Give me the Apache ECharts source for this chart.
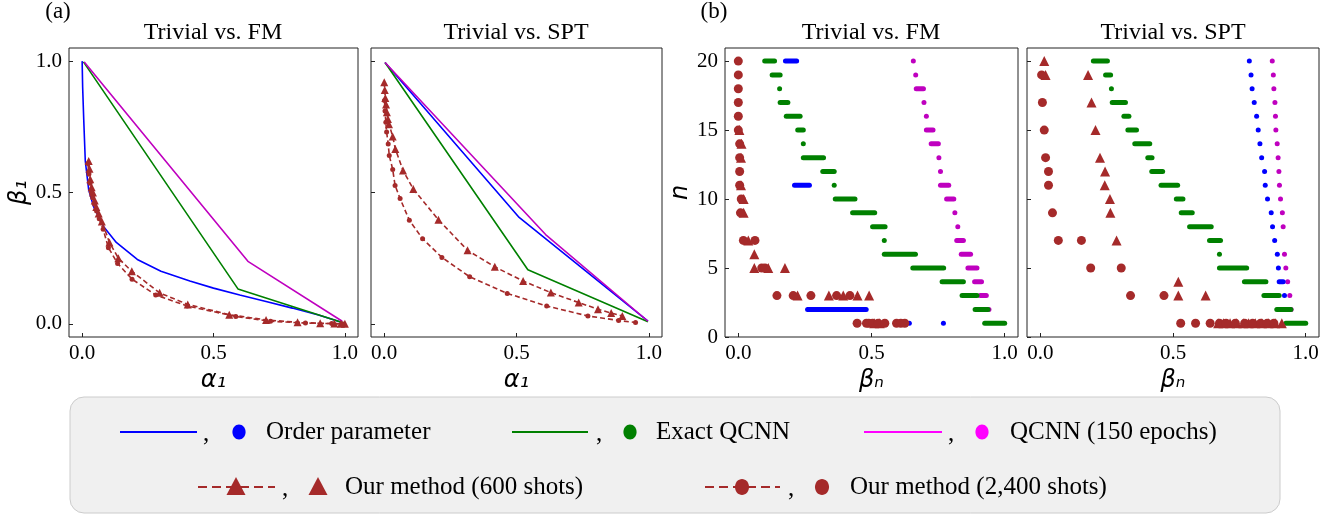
<!DOCTYPE html>
<html>
<head>
<meta charset="utf-8">
<script src="https://cdn.jsdelivr.net/npm/echarts@6/dist/echarts.min.js"></script>
<style>
  html, body { margin: 0; padding: 0; background: #fff; }
  #chart { width: 1341px; height: 518px; }
</style>
</head>
<body>
<div id="chart"></div>
<script>
// ---- panel (a): ROC-like curves, [alpha1, beta1] ----
const fmOrderParam = [[0,1],[0.002,0.9],[0.006,0.78],[0.012,0.62],[0.025,0.51],[0.044,0.445],[0.082,0.37],[0.13,0.31],[0.21,0.245],[0.3,0.2],[0.41,0.163],[0.5,0.136],[0.6,0.11],[0.7,0.085],[0.8,0.06],[0.9,0.034],[0.99,0.005]]
const fmExact = [[0.005,0.997],[0.593,0.133],[0.99,0.005]]
const fmQcnn = [[0.008,0.997],[0.631,0.238],[0.99,0.01]]
const fm600 = [[0.025,0.62],[0.028,0.59],[0.031,0.55],[0.036,0.52],[0.041,0.5],[0.048,0.47],[0.054,0.445],[0.063,0.42],[0.075,0.39],[0.104,0.31],[0.138,0.25],[0.189,0.2],[0.295,0.118],[0.402,0.074],[0.56,0.035],[0.7,0.015],[0.82,0.006],[0.906,0.002],[0.96,0.001],[0.985,0],[1.0,0]]
const fm2400 = [[0.022,0.61],[0.026,0.57],[0.03,0.535],[0.035,0.5],[0.04,0.48],[0.047,0.455],[0.055,0.43],[0.065,0.4],[0.08,0.36],[0.1,0.29],[0.135,0.23],[0.19,0.17],[0.28,0.11],[0.4,0.068],[0.585,0.028],[0.717,0.01],[0.85,0.003],[0.95,0.001],[0.99,0]]

const sptOrderParam = [[0.003,0.995],[0.51,0.405],[0.997,0.01]]
const sptExact = [[0.003,0.995],[0.543,0.206],[0.997,0.008]]
const sptQcnn = [[0.003,0.995],[0.61,0.34],[0.997,0.01]]
const spt600 = [[0,0.92],[0.002,0.89],[0.004,0.86],[0.007,0.835],[0.01,0.805],[0.014,0.78],[0.018,0.76],[0.032,0.713],[0.042,0.666],[0.071,0.584],[0.11,0.513],[0.205,0.396],[0.315,0.28],[0.418,0.217],[0.525,0.163],[0.63,0.119],[0.735,0.081],[0.808,0.056],[0.858,0.041],[0.9,0.03]]
const spt2400 = [[0.001,0.85],[0.003,0.81],[0.006,0.767],[0.009,0.73],[0.015,0.685],[0.019,0.641],[0.032,0.588],[0.041,0.527],[0.06,0.477],[0.095,0.394],[0.145,0.324],[0.218,0.253],[0.323,0.179],[0.465,0.116],[0.614,0.068],[0.77,0.03],[0.886,0.013],[0.95,0.005]]

// ---- panel (b): beta_n per n. runs are [betaLow, betaHigh, n] ----
const fmExactRuns = [[0.099,0.136,20],[0.127,0.157,19],[0.155,0.155,18],[0.157,0.186,17],[0.18,0.232,16],[0.223,0.244,15],[0.244,0.244,14],[0.244,0.32,13],[0.317,0.36,12],[0.36,0.36,11],[0.364,0.438,10],[0.429,0.512,9],[0.504,0.551,8],[0.548,0.548,7],[0.548,0.665,6],[0.655,0.771,5],[0.765,0.845,4],[0.84,0.896,3],[0.889,0.937,2],[0.925,1.0,1]]
const fmQcnnRuns = [[0.657,0.657,20],[0.666,0.666,19],[0.668,0.695,18],[0.697,0.697,17],[0.706,0.706,16],[0.706,0.731,15],[0.724,0.751,14],[0.753,0.753,13],[0.759,0.759,12],[0.759,0.79,11],[0.782,0.809,10],[0.813,0.813,9],[0.824,0.824,8],[0.82,0.845,7],[0.837,0.872,6],[0.862,0.896,5],[0.887,0.913,4],[0.908,0.931,3],[0.941,0.941,2]]
const fmOrderRuns = [[0.177,0.219,20],[0.211,0.267,11],[0.26,0.48,2],[0.642,0.642,1],[0.77,0.77,1]]
const fmTriangles = [[0.004,15],[0.012,14],[0.01,13],[0.01,11],[0.02,10],[0.02,9],[0.0375,7],[0.06,6],[0.06,5],[0.1125,5],[0.175,5],[0.2225,3],[0.34,3],[0.394,3],[0.4475,3],[0.491,3],[0.51,1],[0.531,1]]
const fmCircles = [[0,20],[0,19],[0,18],[0,17],[0,16],[0,15],[0.005,14],[0.005,13],[0.005,12],[0.005,11],[0.011,10],[0.008,9],[0.019,7],[0.0625,7],[0.088,5],[0.1,5],[0.145,3],[0.206,3],[0.2725,3],[0.369,3],[0.419,3],[0.446,1],[0.481,1],[0.49,1],[0.504,1],[0.525,1],[0.55,1],[0.594,1],[0.61,1],[0.625,1]]

const sptExactRuns = [[0.2,0.253,20],[0.246,0.265,19],[0.268,0.268,18],[0.271,0.321,17],[0.315,0.334,16],[0.33,0.3625,15],[0.356,0.4125,14],[0.405,0.421,13],[0.42,0.461,12],[0.455,0.5175,11],[0.5125,0.5375,10],[0.531,0.5725,9],[0.5625,0.644,8],[0.6375,0.679,7],[0.675,0.675,6],[0.675,0.7775,5],[0.769,0.85,4],[0.8425,0.9,3],[0.891,0.944,2],[0.925,1.0,1]]
const sptQcnnRuns = [[0.874,0.874,20],[0.878,0.878,19],[0.88,0.88,18],[0.884,0.884,17],[0.886,0.886,16],[0.8875,0.8875,15],[0.8925,0.8925,14],[0.896,0.896,13],[0.899,0.899,12],[0.901,0.901,11],[0.905,0.905,10],[0.912,0.912,9],[0.915,0.915,8],[0.92,0.92,6],[0.925,0.925,5],[0.932,0.932,4],[0.94,0.94,3],[0.945,0.945,2]]
const sptOrderRuns = [[0.7875,0.7875,20],[0.794,0.794,19],[0.798,0.798,18],[0.806,0.806,17],[0.815,0.815,16],[0.821,0.821,15],[0.8275,0.8275,14],[0.834,0.834,13],[0.845,0.845,12],[0.8475,0.8475,11],[0.856,0.856,10],[0.87,0.87,9],[0.875,0.875,8],[0.883,0.883,7],[0.893,0.893,6],[0.897,0.897,5],[0.9,0.915,4],[0.92,0.92,3]]
const sptTriangles = [[0.015,20],[0.02,19],[0.18,19],[0.193,17],[0.208,15],[0.225,13],[0.244,12],[0.243,11],[0.2625,10],[0.264,9],[0.2875,7],[0.52,4],[0.52,3],[0.623,3],[0.67,1],[0.69,1],[0.715,1],[0.74,1],[0.765,1],[0.785,1],[0.81,1],[0.835,1],[0.86,1],[0.885,1],[0.91,1]]
const sptCircles = [[0.005,19],[0.008,17],[0.015,15],[0.02,13],[0.031,12],[0.031,11],[0.046,9],[0.068,7],[0.155,7],[0.19,5],[0.305,5],[0.34,3],[0.466,3],[0.529,1],[0.585,1],[0.64,1],[0.675,1],[0.7,1],[0.735,1],[0.77,1],[0.8,1],[0.83,1],[0.855,1],[0.88,1]]

const unitTicks = [0, 0.5, 1]
const nTicks = [0, 5, 10, 15, 20]

const BLUE = '#0000ff', GREEN = '#008000', MAG = '#bf00bf', BROWN = '#a52a2a'
const SERIF = 'Liberation Serif'

const chart = echarts.init(document.getElementById('chart'))

const grids = [
  { left: 69, top: 48, width: 289, height: 289 },
  { left: 371, top: 48, width: 291, height: 289 },
  { left: 725, top: 48, width: 293, height: 289 },
  { left: 1027, top: 48, width: 292, height: 289 }
].map(g => Object.assign(g, { show: true, borderColor: '#222', borderWidth: 1, backgroundColor: 'transparent' }))

function xAxisFor(idx, name) {
  return {
    gridIndex: idx, type: 'value', min: -0.05, max: 1.05,
    axisLine: { show: false, onZero: false },
    axisTick: { inside: true, length: 4, customValues: unitTicks, lineStyle: { color: '#222' } },
    axisLabel: { customValues: unitTicks, formatter: v => v.toFixed(1), fontFamily: SERIF, fontSize: 21, color: '#000', margin: 6 },
    splitLine: { show: false },
    name: name, nameLocation: 'middle', nameGap: 27,
    nameTextStyle: { fontFamily: 'DejaVu Sans', fontStyle: 'italic', fontSize: 24, color: '#000' }
  }
}

function yAxisFor(idx, isN, showLabels, name) {
  const ticks = isN ? nTicks : unitTicks
  return {
    gridIndex: idx, type: 'value',
    min: isN ? 0 : -0.05, max: isN ? 20.95 : 1.05,
    axisLine: { show: false, onZero: false },
    axisTick: { inside: true, length: 4, customValues: ticks, lineStyle: { color: '#222' } },
    axisLabel: { show: showLabels, customValues: ticks, formatter: v => isN ? String(v) : v.toFixed(1), fontFamily: SERIF, fontSize: 21, color: '#000', margin: 7 },
    splitLine: { show: false },
    name: name || '', nameLocation: 'middle', nameGap: isN ? 30 : 34, nameRotate: 90,
    nameTextStyle: { fontFamily: 'DejaVu Sans', fontStyle: 'italic', fontSize: 24, color: '#000' }
  }
}

function curve(idx, data, color) {
  return { type: 'line', xAxisIndex: idx, yAxisIndex: idx, data: data, symbol: 'none',
    lineStyle: { color: color, width: 1.6 }, z: 2 }
}

function shots(idx, data, symbol, size) {
  return { type: 'line', xAxisIndex: idx, yAxisIndex: idx, data: data, symbol: symbol, symbolSize: size,
    showSymbol: true, itemStyle: { color: BROWN, opacity: 1 }, lineStyle: { color: BROWN, width: 1.6, type: [5, 3] }, z: 3 }
}

function runs(idx, data, color, h) {
  return {
    type: 'custom', xAxisIndex: idx, yAxisIndex: idx, data: data,
    encode: { x: [0, 1], y: 2 },
    renderItem: function (params, api) {
      const a = api.coord([api.value(0), api.value(2)])
      const b = api.coord([api.value(1), api.value(2)])
      return { type: 'rect', shape: { x: a[0] - h / 2, y: a[1] - h / 2, width: b[0] - a[0] + h, height: h, r: h / 2 },
        style: { fill: color } }
    }
  }
}

function points(idx, data, symbol, size) {
  return { type: 'scatter', xAxisIndex: idx, yAxisIndex: idx, data: data, symbol: symbol, symbolSize: size,
    itemStyle: { color: BROWN, opacity: 1 }, z: 4 }
}

// legend & labels drawn as graphics
const LY1 = 432, LY2 = 487, LF = 25
function txt(x, y, text, size, align, fontFamily) {
  return { type: 'text', x: x, y: y, style: { text: text, font: (size || 24) + 'px "' + (fontFamily || SERIF) + '"',
    fill: '#000', align: align || 'left', verticalAlign: 'middle' } }
}
function tri(cx, cy, w, hgt) {
  return { type: 'polygon', shape: { points: [[cx, cy - hgt / 2], [cx + w / 2, cy + hgt / 2], [cx - w / 2, cy + hgt / 2]] },
    style: { fill: BROWN } }
}
function dot(cx, cy, r, color) {
  return { type: 'ellipse', shape: { cx: cx, cy: cy, rx: r * 0.88, ry: r }, style: { fill: color } }
}
function seg(x1, x2, y, color, dashed) {
  return { type: 'line', shape: { x1: x1, y1: y, x2: x2, y2: y },
    style: { stroke: color, lineWidth: 2.2, lineDash: dashed ? [9, 5] : null } }
}

const graphics = [
  { type: 'rect', shape: { x: 70, y: 397, width: 1210, height: 116, r: 14 },
    style: { fill: '#f0f0f0', stroke: '#cccccc', lineWidth: 1 }, z: -1 },
  txt(58, 12, '(a)', 23, 'center'),
  txt(714, 12, '(b)', 23, 'center'),
  txt(213, 33, 'Trivial vs. FM', 24, 'center'),
  txt(516, 33, 'Trivial vs. SPT', 24, 'center'),
  txt(871, 33, 'Trivial vs. FM', 24, 'center'),
  txt(1173, 33, 'Trivial vs. SPT', 24, 'center'),

  seg(120, 197, LY1, BLUE), txt(203, LY1 + 2, ',', LF), dot(239, LY1, 7.5, BLUE), txt(266, LY1, 'Order parameter', LF),
  seg(512, 588, LY1, GREEN), txt(596, LY1 + 2, ',', LF), dot(630, LY1, 7.5, GREEN), txt(656, LY1, 'Exact QCNN', LF),
  seg(864, 942, LY1, '#ff00ff'), txt(948, LY1 + 2, ',', LF), dot(982, LY1, 7.5, '#ff00ff'), txt(1010, LY1, 'QCNN (150 epochs)', LF),

  seg(198, 275, LY2, BROWN, true), tri(236, LY2 - 1, 19, 18), txt(282, LY2 + 2, ',', LF), tri(318, LY2 - 1, 19, 18), txt(345, LY2, 'Our method (600 shots)', LF),
  seg(705, 780, LY2, BROWN, true), dot(742, LY2, 8, BROWN), txt(788, LY2 + 2, ',', LF), dot(822, LY2, 8, BROWN), txt(850, LY2, 'Our method (2,400 shots)', LF)
]

const option = {
  animation: false,
  backgroundColor: '#fff',
  grid: grids,
  xAxis: [xAxisFor(0, 'α₁'), xAxisFor(1, 'α₁'), xAxisFor(2, 'βₙ'), xAxisFor(3, 'βₙ')],
  yAxis: [yAxisFor(0, false, true, 'β₁'), yAxisFor(1, false, false), yAxisFor(2, true, true, 'n'), yAxisFor(3, true, false)],
  series: [
    curve(0, fmOrderParam, BLUE), curve(0, fmExact, GREEN), curve(0, fmQcnn, MAG),
    shots(0, fm600, 'triangle', 8), shots(0, fm2400, 'circle', 5),
    curve(1, sptOrderParam, BLUE), curve(1, sptExact, GREEN), curve(1, sptQcnn, MAG),
    shots(1, spt600, 'triangle', 8), shots(1, spt2400, 'circle', 5),

    runs(2, fmQcnnRuns, MAG, 5), runs(2, fmOrderRuns, BLUE, 5), runs(2, fmExactRuns, GREEN, 5),
    points(2, fmTriangles, 'triangle', 10), points(2, fmCircles, 'circle', 9),
    runs(3, sptQcnnRuns, MAG, 5), runs(3, sptOrderRuns, BLUE, 5), runs(3, sptExactRuns, GREEN, 5),
    points(3, sptTriangles, 'triangle', 10), points(3, sptCircles, 'circle', 9)
  ],
  graphic: graphics
}

chart.setOption(option)
</script>
</body>
</html>
